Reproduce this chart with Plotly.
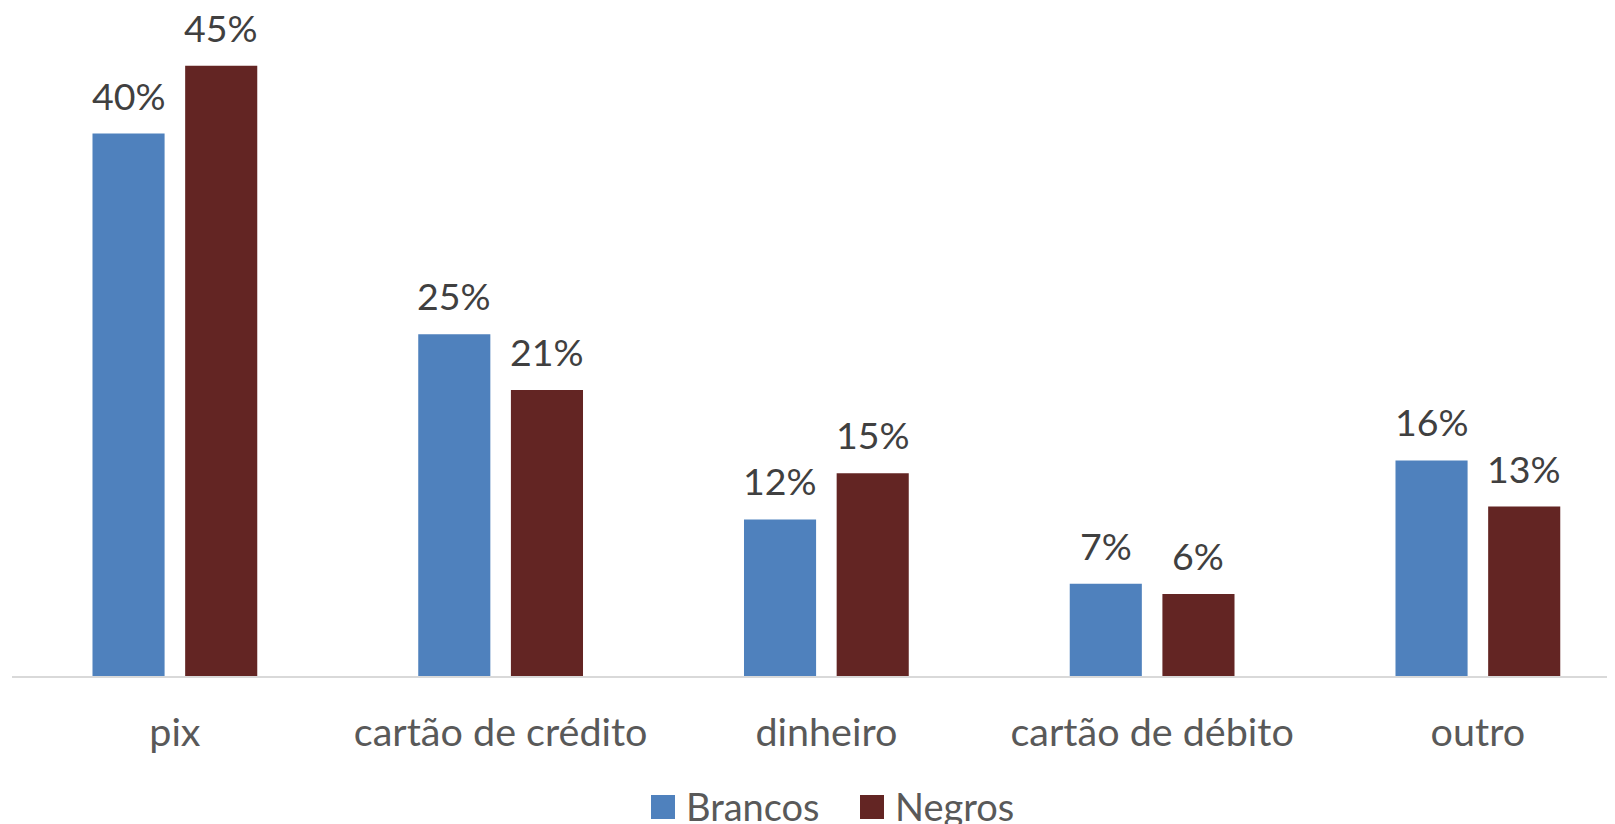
import plotly.graph_objects as go

# payment method share by group
categorias = ['pix', 'cartão de crédito', 'dinheiro', 'cartão de débito', 'outro']
brancos = [0.40, 0.252, 0.1155, 0.068, 0.159]
negros = [0.45, 0.211, 0.1495, 0.0605, 0.125]
rotulos_brancos = ['40%', '25%', '12%', '7%', '16%']
rotulos_negros = ['45%', '21%', '15%', '6%', '13%']

AZUL = '#4F81BD'
VINHO = '#632523'
FONTE = 'Lato'

# the page has an 8px body margin, so the figure is 8px smaller and everything shifted
OFF = 8
W, H = 1615 - OFF, 824 - OFF
L, T, B = 12 - OFF, 0, 148
PW, PH = W - L, H - T - B
CAT_PX = 325.75


def px_x(x):
	# page pixel -> paper coordinate
	return (x - OFF - L) / PW


def px_y(y):
	return (H - B - (y - OFF)) / PH


fig = go.Figure()
fig.add_trace(go.Bar(x=categorias, y=brancos, name='Brancos', marker_color=AZUL))
fig.add_trace(go.Bar(x=categorias, y=negros, name='Negros', marker_color=VINHO))

anots = []
for cat, v, t in zip(categorias, brancos, rotulos_brancos):
	anots.append(dict(x=cat, y=v, text=t, xshift=-46.3, yshift=14, showarrow=False,
			  yanchor='bottom', font=dict(size=37.5, color='#404040', family=FONTE)))
for cat, v, t in zip(categorias, negros, rotulos_negros):
	anots.append(dict(x=cat, y=v, text=t, xshift=46.3, yshift=14, showarrow=False,
			  yanchor='bottom', font=dict(size=37.5, color='#404040', family=FONTE)))

# legend drawn by hand so it can sit partly below the page like the original
shapes = []
for nome, cor, x0, xt in [('Brancos', AZUL, 651, 684), ('Negros', VINHO, 860, 893)]:
	shapes.append(dict(type='rect', xref='paper', yref='paper', x0=px_x(x0), x1=px_x(x0 + 24),
			   y0=px_y(819), y1=px_y(795), fillcolor=cor, line_width=0))
	anots.append(dict(xref='paper', yref='paper', x=px_x(xt), y=px_y(806), text=nome,
			  showarrow=False, xanchor='left', yanchor='middle',
			  font=dict(size=38, color='#595959', family=FONTE)))

fig.update_layout(
	width=W, height=H,
	template='none',
	margin=dict(l=L, r=0, t=T, b=B, pad=0),
	paper_bgcolor='white', plot_bgcolor='white',
	barmode='group', bargap=0.431, bargroupgap=0.222,
	showlegend=False,
	annotations=anots, shapes=shapes,
	font=dict(family=FONTE, color='#595959'),
)
fig.update_xaxes(range=[-0.5, -0.5 + PW / CAT_PX], showgrid=False, zeroline=False,
		 showline=True, linecolor='#D9D9D9', linewidth=1.5, ticks='',
		 ticklabelstandoff=21, automargin=False,
		 tickfont=dict(size=39.5, color='#595959', family=FONTE))
fig.update_yaxes(range=[0, PH / 1356.0], visible=False, showgrid=False, zeroline=False, automargin=False)

fig.write_html('out.html')
